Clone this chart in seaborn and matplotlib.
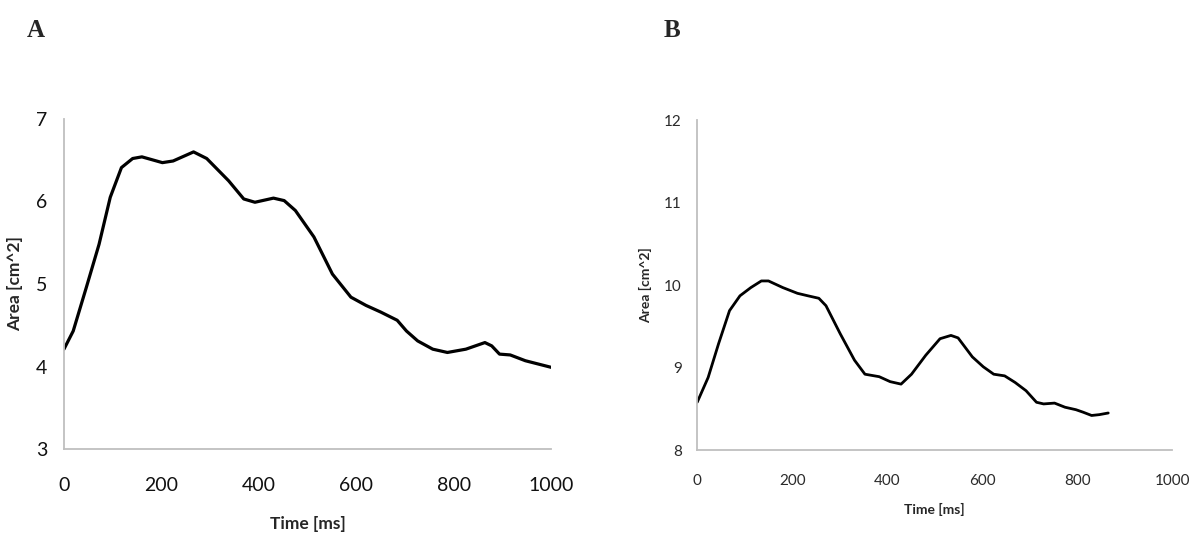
import pandas as pd
import matplotlib.pyplot as plt
import seaborn as sns

# panel A: area over time
time_a = [0, 19, 46, 72, 95, 118, 141, 160, 202, 224, 266, 293, 338, 369, 392,
          430, 452, 475, 513, 551, 589, 620, 650, 684, 703, 726, 757, 787, 825,
          864, 878, 894, 916, 947, 1000]
area_a = [4.21, 4.43, 4.96, 5.48, 6.05, 6.41, 6.52, 6.54, 6.47, 6.49, 6.60, 6.52,
          6.25, 6.03, 5.99, 6.04, 6.01, 5.89, 5.57, 5.12, 4.84, 4.74, 4.66, 4.56,
          4.43, 4.31, 4.21, 4.17, 4.21, 4.29, 4.25, 4.15, 4.14, 4.07, 3.99]

# panel B: area over time
time_b = [0, 23, 45, 68, 90, 113, 135, 150, 180, 211, 233, 256, 271, 301, 331,
          353, 383, 406, 429, 451, 481, 511, 534, 549, 579, 602, 624, 647, 669,
          692, 714, 729, 752, 774, 797, 812, 830, 846, 865]
area_b = [8.58, 8.88, 9.29, 9.69, 9.87, 9.97, 10.05, 10.05, 9.97, 9.90, 9.87, 9.84,
          9.75, 9.41, 9.09, 8.92, 8.89, 8.83, 8.80, 8.92, 9.15, 9.35, 9.39, 9.36,
          9.13, 9.01, 8.92, 8.90, 8.82, 8.72, 8.58, 8.56, 8.57, 8.52, 8.49, 8.46,
          8.42, 8.43, 8.45]

x_ticks = [0, 200, 400, 600, 800, 1000]
y_ticks_a = [3, 4, 5, 6, 7]
y_ticks_b = [8, 9, 10, 11, 12]

df_a = pd.DataFrame({'time': time_a, 'area': area_a})
df_b = pd.DataFrame({'time': time_b, 'area': area_b})

sns.set_style('white')
plt.rcParams['font.family'] = ['Lato', 'DejaVu Sans']

fig = plt.figure(figsize=(12, 5.53), dpi=100)
ax_a = fig.add_axes([0.0533, 0.188, 0.406, 0.597])
ax_b = fig.add_axes([0.581, 0.186, 0.396, 0.597])

grey = '#bfbfbf'


def style_axis(ax, yticks, tick_size, label_size, tick_color, xpad, ypad, xlabelpad, ylabelpad):
    ax.set_xlim(0, 1000)
    ax.set_ylim(yticks[0], yticks[-1])
    ax.set_xticks(x_ticks)
    ax.set_yticks(yticks)
    for side in ['top', 'right']:
        ax.spines[side].set_visible(False)
    for side in ['left', 'bottom']:
        ax.spines[side].set_color(grey)
        ax.spines[side].set_linewidth(1.3)
    ax.tick_params(axis='both', direction='out', length=4, width=1.2, color=grey,
                   labelsize=tick_size, labelcolor=tick_color)
    ax.tick_params(axis='x', pad=xpad)
    ax.tick_params(axis='y', pad=ypad)
    ax.set_xlabel('Time [ms]', fontsize=label_size, fontweight='bold', labelpad=xlabelpad)
    ax.set_ylabel('Area [cm^2]', fontsize=label_size, fontweight='bold', labelpad=ylabelpad)
    ax.grid(False)


sns.lineplot(data=df_a, x='time', y='area', ax=ax_a, color='black', linewidth=2.3)
style_axis(ax_a, y_ticks_a, 14, 12.5, '#111111', 16, 8, 16, 9)

sns.lineplot(data=df_b, x='time', y='area', ax=ax_b, color='black', linewidth=2.0)
style_axis(ax_b, y_ticks_b, 11, 10, '#2a2a2a', 13, 7, 11, 9)

fig.text(0.022, 0.945, 'A', fontsize=18, fontweight='bold',
         family=['Liberation Serif', 'DejaVu Serif'], va='center')
fig.text(0.553, 0.945, 'B', fontsize=18, fontweight='bold',
         family=['Liberation Serif', 'DejaVu Serif'], va='center')

fig.savefig('out.png', dpi=100, facecolor='white')
